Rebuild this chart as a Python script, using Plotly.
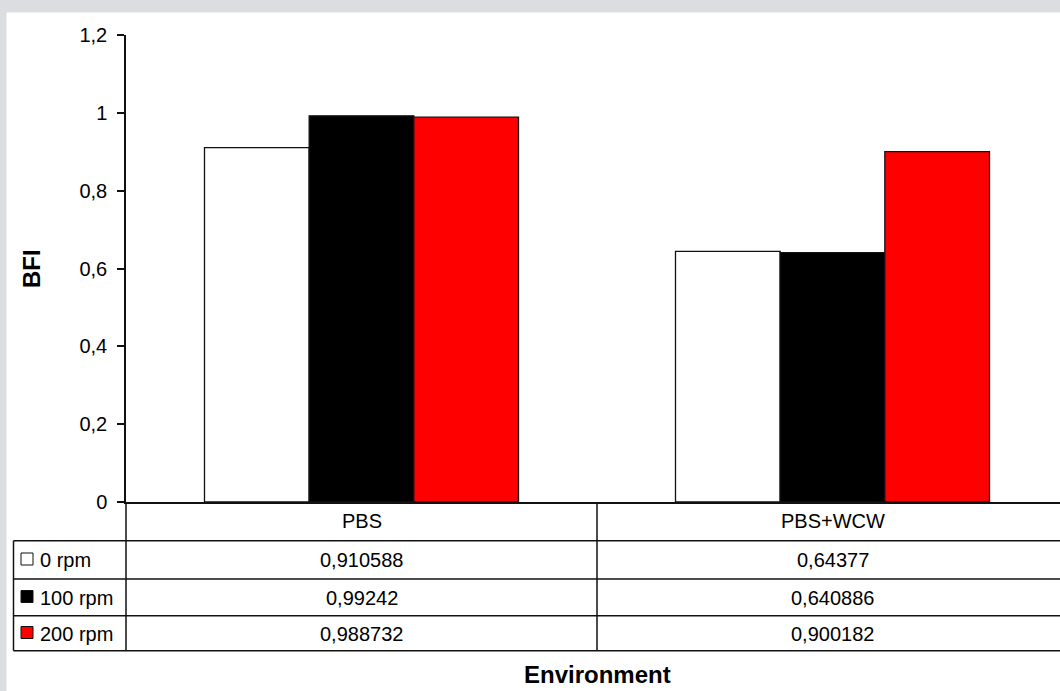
import plotly.graph_objects as go

# Data
environments = ["PBS", "PBS+WCW"]
series_names = ["0 rpm", "100 rpm", "200 rpm"]
bfi_0rpm = [0.910588, 0.64377]
bfi_100rpm = [0.99242, 0.640886]
bfi_200rpm = [0.988732, 0.900182]
y_ticks = [0, 0.2, 0.4, 0.6, 0.8, 1.0, 1.2]

series_values = [bfi_0rpm, bfi_100rpm, bfi_200rpm]
series_colors = ["#ffffff", "#000000", "#ff0000"]

W, H = 1060, 691
L, T, B = 126, 35, 189          # plot area: x 126..1060, y 35..502
PW, PH = W - L, H - T - B
FONT = "Liberation Sans, Arial, sans-serif"
LINE = "#111111"


def xp(px):
    return (px - L) / PW


def yp(py):
    return (H - B - py) / PH


def fmt(v):
    return repr(v).replace(".", ",")


fig = go.Figure()
for name, vals, col in zip(series_names, series_values, series_colors):
    fig.add_trace(go.Bar(
        name=name, x=[0, 1], y=vals,
        marker=dict(color=col, line=dict(color=LINE, width=1.3)),
    ))

shapes = []
annotations = []

# grey frame at top and left edges
shapes.append(dict(type="rect", xref="paper", yref="paper", layer="below",
                   x0=xp(0), x1=xp(W), y0=yp(0), y1=yp(12.5),
                   fillcolor="#dcdde0", line=dict(width=0)))
shapes.append(dict(type="rect", xref="paper", yref="paper", layer="below",
                   x0=xp(0), x1=xp(6.5), y0=yp(0), y1=yp(H),
                   fillcolor="#dcdde0", line=dict(width=0)))

# data table grid below the axis
row_lines = [540.7, 579, 615.7, 650.7]
for ry in row_lines:
    shapes.append(dict(type="line", xref="paper", yref="paper",
                       x0=xp(13.5), x1=1, y0=yp(ry), y1=yp(ry),
                       line=dict(color=LINE, width=1.5)))
shapes.append(dict(type="line", xref="paper", yref="paper",
                   x0=xp(13.5), x1=xp(13.5), y0=yp(540.7), y1=yp(650.7),
                   line=dict(color=LINE, width=1.5)))
shapes.append(dict(type="line", xref="paper", yref="paper",
                   x0=0, x1=0, y0=0, y1=yp(650.7),
                   line=dict(color=LINE, width=1.5)))
shapes.append(dict(type="line", xref="x", yref="paper",
                   x0=0.5, x1=0.5, y0=0, y1=yp(650.7),
                   line=dict(color=LINE, width=1.5)))

# header row: category names
for i, env in enumerate(environments):
    annotations.append(dict(xref="x", yref="paper", x=i, y=yp(521),
                            text=env, showarrow=False, xanchor="center",
                            yanchor="middle", font=dict(size=20, color="#000")))

# value rows with legend keys
row_centers = [560, 597.5, 633.5]
for name, vals, col, rc in zip(series_names, series_values, series_colors, row_centers):
    shapes.append(dict(type="rect", xref="paper", yref="paper",
                       x0=xp(21), x1=xp(33), y0=yp(rc + 5), y1=yp(rc - 7),
                       fillcolor=col, line=dict(color=LINE, width=1)))
    annotations.append(dict(xref="paper", yref="paper", x=xp(38), y=yp(rc),
                            text=name, showarrow=False, xanchor="left",
                            yanchor="middle", font=dict(size=20, color="#000")))
    for i, v in enumerate(vals):
        annotations.append(dict(xref="x", yref="paper", x=i, y=yp(rc),
                                text=fmt(v), showarrow=False, xanchor="center",
                                yanchor="middle", font=dict(size=20, color="#000")))

# axis titles
annotations.append(dict(xref="paper", yref="paper", x=xp(31.5), y=0.5,
                        text="<b>BFI</b>", textangle=-90, showarrow=False,
                        xanchor="center", yanchor="middle",
                        font=dict(size=24, color="#000")))
annotations.append(dict(xref="paper", yref="paper", x=xp(597.5), y=yp(674),
                        text="<b>Environment</b>", showarrow=False,
                        xanchor="center", yanchor="middle",
                        font=dict(size=24, color="#000")))

x_right = -0.5 + PW / 471.0

fig.update_layout(
    width=W, height=H,
    margin=dict(l=L, r=0, t=T, b=B, pad=0),
    paper_bgcolor="#ffffff", plot_bgcolor="#ffffff",
    font=dict(family=FONT, size=20, color="#000"),
    separators=",.",
    barmode="group", bargap=1/3, bargroupgap=0,
    showlegend=False,
    xaxis=dict(range=[-0.5, x_right], showticklabels=False, ticks="",
               showgrid=False, zeroline=False, showline=True,
               linecolor=LINE, linewidth=1.5, fixedrange=True),
    yaxis=dict(range=[0, 1.2], tickvals=y_ticks, ticks="outside", ticklen=7,
               tickwidth=1.5, tickcolor=LINE, ticklabelstandoff=6,
               showgrid=False, zeroline=False, showline=True,
               linecolor=LINE, linewidth=1.5,
               tickfont=dict(size=20, color="#000")),
    shapes=shapes,
    annotations=annotations,
)

fig.write_html("out.html")
